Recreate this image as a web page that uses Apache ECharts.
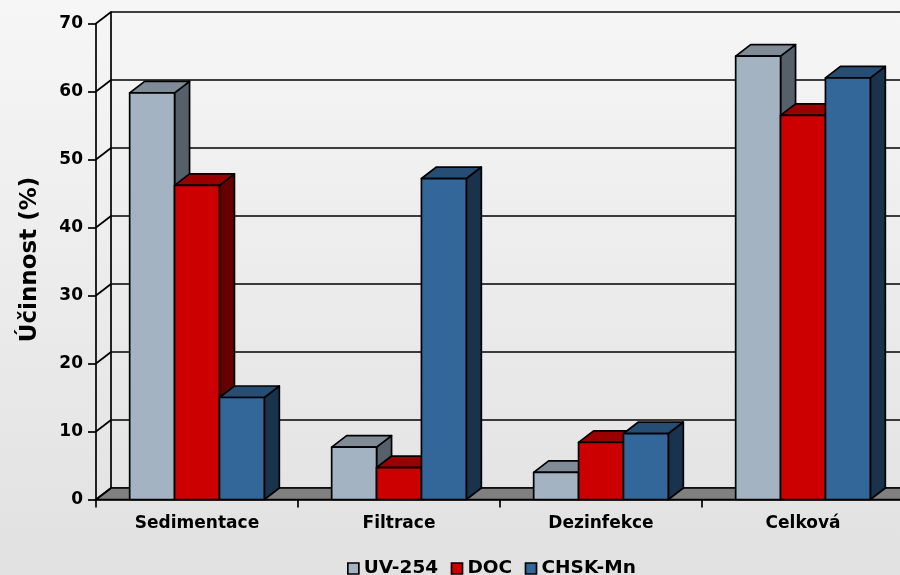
<!DOCTYPE html>
<html>
<head>
<meta charset="utf-8">
<style>html,body{margin:0;padding:0;background:#eee}#c{width:900px;height:575px}</style>
<script src="https://cdn.jsdelivr.net/npm/echarts@6/dist/echarts.min.js"></script>
</head>
<body>
<div id="c"></div>
<script>
const categories = ['Sedimentace', 'Filtrace', 'Dezinfekce', 'Celková'];
const uv254 = [59.8, 7.7, 4.0, 65.2];
const doc = [46.2, 4.7, 8.4, 56.5];
const chskMn = [15.0, 47.2, 9.7, 62.0];
const yTicks = [0, 10, 20, 30, 40, 50, 60, 70];

// Oblique projection of the box depth, in pixels
const DEPTH_X = 15;
const DEPTH_Y = 11.5;
const FONT = '"DejaVu Sans", sans-serif';
const INK = '#000';
const LINE = 1.7;

const palette = [
  { name: 'UV-254', values: uv254, front: '#a3b3c2', top: '#7f8b97', side: '#56606a' },
  { name: 'DOC', values: doc, front: '#cc0000', top: '#990000', side: '#660000' },
  { name: 'CHSK-Mn', values: chskMn, front: '#336699', top: '#264d73', side: '#1a334d' }
];

const chart = echarts.init(document.getElementById('c'), null, { renderer: 'canvas' });

function face(points, fill) {
  return {
    type: 'polygon',
    shape: { points },
    style: { fill, stroke: INK, lineWidth: LINE, lineJoin: 'round' }
  };
}

// One bar as three visible faces: front, top and right side
function renderBar(spec, index) {
  return function (params, api) {
    const band = api.size([1, 0])[0];
    const barW = band / 4.5;
    const cat = api.value(0);
    const base = api.coord([cat, 0]);
    const head = api.coord([cat, api.value(1)]);
    const x0 = base[0] + (index - 1.5) * barW;
    const x1 = x0 + barW;
    const yB = base[1];
    const yT = head[1];
    return {
      type: 'group',
      children: [
        face([[x1, yB], [x1 + DEPTH_X, yB - DEPTH_Y], [x1 + DEPTH_X, yT - DEPTH_Y], [x1, yT]], spec.side),
        face([[x0, yT], [x1, yT], [x1 + DEPTH_X, yT - DEPTH_Y], [x0 + DEPTH_X, yT - DEPTH_Y]], spec.top),
        face([[x0, yB], [x1, yB], [x1, yT], [x0, yT]], spec.front)
      ]
    };
  };
}

// Grey floor of the box, spanning the whole plot width
function renderFloor(params) {
  const r = params.coordSys;
  const yB = r.y + r.height;
  return {
    type: 'polygon',
    shape: { points: [[r.x, yB], [r.x + r.width, yB], [r.x + r.width + DEPTH_X, yB - DEPTH_Y], [r.x + DEPTH_X, yB - DEPTH_Y]] },
    style: { fill: '#808080', stroke: INK, lineWidth: LINE }
  };
}

// Short diagonal linking each front tick to its gridline on the back wall
function renderWallLink(params, api) {
  const p = api.coord([0, api.value(0)]);
  const left = params.coordSys.x;
  return {
    type: 'line',
    shape: { x1: left, y1: p[1], x2: left + DEPTH_X, y2: p[1] - DEPTH_Y },
    style: { stroke: INK, lineWidth: LINE }
  };
}

const barSeries = palette.map((spec, i) => ({
  type: 'custom',
  name: spec.name,
  xAxisIndex: 0,
  yAxisIndex: 0,
  z: 4 + i,
  clip: false,
  itemStyle: { color: spec.front },
  encode: { x: 0, y: 1 },
  data: spec.values.map((v, c) => [c, v]),
  renderItem: renderBar(spec, i)
}));

const plotLeft = 96;
const plotTop = 23.5;
const plotBottom = 75.5;
const plotWidth = 808;

chart.setOption({
  animation: false,
  backgroundColor: {
    type: 'linear', x: 0, y: 0, x2: 0, y2: 1,
    colorStops: [{ offset: 0, color: '#f6f6f6' }, { offset: 1, color: '#e1e1e1' }]
  },
  legend: {
    data: palette.map(s => s.name),
    left: 342,
    top: 554,
    itemWidth: 11,
    itemHeight: 11,
    itemGap: 12.5,
    icon: 'rect',
    itemStyle: { borderColor: INK, borderWidth: LINE },
    textStyle: { fontFamily: FONT, fontWeight: 'bold', fontSize: 18.5, color: INK }
  },
  grid: [
    { left: plotLeft, top: plotTop, width: plotWidth, bottom: plotBottom, outerBoundsMode: 'none' },
    { left: plotLeft + DEPTH_X, top: plotTop - DEPTH_Y, width: plotWidth, bottom: plotBottom + DEPTH_Y, outerBoundsMode: 'none' }
  ],
  xAxis: [
    {
      type: 'category',
      gridIndex: 0,
      data: categories,
      z: 9,
      axisLine: { lineStyle: { color: INK, width: LINE } },
      axisTick: { show: true, length: 8, lineStyle: { color: INK, width: LINE } },
      axisLabel: { margin: 16, fontFamily: FONT, fontWeight: 'bold', fontSize: 17, color: INK, interval: 0 }
    },
    { type: 'category', gridIndex: 1, data: categories, show: false }
  ],
  yAxis: [
    {
      type: 'value',
      gridIndex: 0,
      min: 0,
      max: 70,
      interval: 10,
      name: 'Účinnost (%)',
      nameLocation: 'middle',
      nameRotate: 90,
      nameGap: 54,
      nameTextStyle: { fontFamily: FONT, fontWeight: 'bold', fontSize: 23, color: INK, padding: [0, 0, 0, 4] },
      z: 9,
      axisLine: { show: true, lineStyle: { color: INK, width: LINE } },
      axisTick: { show: true, length: 8, lineStyle: { color: INK, width: LINE } },
      splitLine: { show: false },
      axisLabel: { margin: 13, fontFamily: FONT, fontWeight: 'bold', fontSize: 17, color: INK, padding: [2, 0, 0, 0] }
    },
    {
      type: 'value',
      gridIndex: 1,
      min: 0,
      max: 70,
      interval: 10,
      axisLine: { show: true, lineStyle: { color: INK, width: LINE } },
      axisTick: { show: false },
      axisLabel: { show: false },
      splitLine: { show: true, lineStyle: { color: INK, width: LINE } }
    }
  ],
  series: [
    {
      type: 'custom',
      name: 'floor',
      xAxisIndex: 0,
      yAxisIndex: 0,
      z: 2,
      clip: false,
      silent: true,
      data: [[0, 0]],
      encode: { x: 0, y: 1 },
      renderItem: renderFloor
    },
    {
      type: 'custom',
      name: 'wall links',
      xAxisIndex: 0,
      yAxisIndex: 0,
      z: 3,
      clip: false,
      silent: true,
      data: yTicks.map(v => [v]),
      encode: { y: 0 },
      renderItem: renderWallLink
    }
  ].concat(barSeries)
});
</script>
</body>
</html>
